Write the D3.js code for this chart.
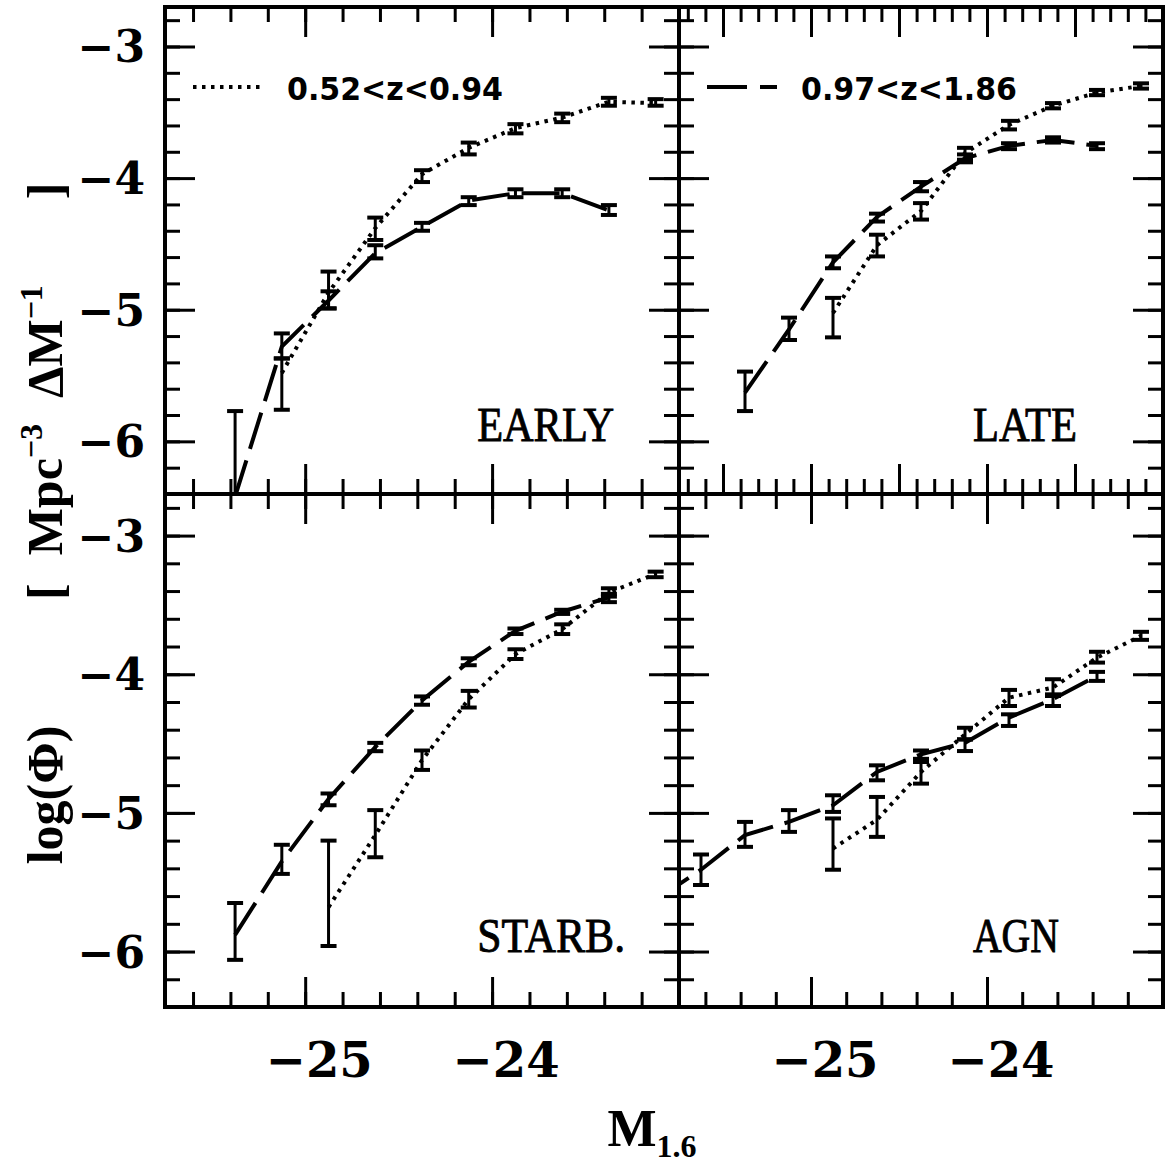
<!DOCTYPE html>
<html><head><meta charset="utf-8">
<script src="https://cdn.jsdelivr.net/npm/d3@7/dist/d3.min.js"></script>
<style>body{margin:0;background:#fff}svg{display:block}</style>
</head><body>
<script>
// ---------------- DATA ----------------
const panelNames = ["EARLY", "LATE", "STARB.", "AGN"];
const legendLabels = ["0.52<z<0.94", "0.97<z<1.86"];
const xTickValues = [-25, -24];
const xTickLabels = ["\u221225", "\u221224"];
const yTickValues = [-3, -4, -5, -6];
const yTickLabels = ["\u22123", "\u22124", "\u22125", "\u22126"];

// EARLY, 0.52<z<0.94 (dotted)
const earlyLowZ_M      = [-25.125, -24.875, -24.625, -24.375, -24.125, -23.875, -23.625, -23.375, -23.125];
const earlyLowZ_logPhi = [-5.48, -4.87, -4.38, -3.97, -3.77, -3.62, -3.54, -3.42, -3.43];
const earlyLowZ_lo     = [-5.76, -4.99, -4.47, -4.03, -3.82, -3.66, -3.575, -3.45, -3.45];
const earlyLowZ_hi     = [-5.37, -4.71, -4.30, -3.94, -3.73, -3.59, -3.51, -3.39, -3.40];
// EARLY, 0.97<z<1.86 (dashed)
const earlyHighZ_M      = [-25.375, -25.125, -24.875, -24.625, -24.375, -24.125, -23.875, -23.625, -23.375];
const earlyHighZ_logPhi = [-6.42, -5.28, -4.93, -4.57, -4.37, -4.17, -4.115, -4.115, -4.245];
const earlyHighZ_lo     = [-7.00, -5.37, -4.99, -4.61, -4.40, -4.205, -4.145, -4.145, -4.28];
const earlyHighZ_hi     = [-5.77, -5.18, -4.86, -4.51, -4.34, -4.145, -4.085, -4.085, -4.205];

// LATE
const lateLowZ_M      = [-24.875, -24.625, -24.375, -24.125, -23.875, -23.625, -23.375, -23.125];
const lateLowZ_logPhi = [-5.025, -4.51, -4.25, -3.81, -3.595, -3.45, -3.35, -3.30];
const lateLowZ_lo     = [-5.21, -4.595, -4.315, -3.86, -3.63, -3.47, -3.37, -3.32];
const lateLowZ_hi     = [-4.91, -4.43, -4.19, -3.77, -3.565, -3.43, -3.33, -3.28];
const lateHighZ_M      = [-25.375, -25.125, -24.875, -24.625, -24.375, -24.125, -23.875, -23.625, -23.375];
const lateHighZ_logPhi = [-5.63, -5.15, -4.64, -4.295, -4.065, -3.85, -3.755, -3.71, -3.755];
const lateHighZ_lo     = [-5.77, -5.23, -4.685, -4.33, -4.10, -3.88, -3.78, -3.73, -3.78];
const lateHighZ_hi     = [-5.47, -5.06, -4.595, -4.27, -4.03, -3.82, -3.735, -3.69, -3.735];

// STARB.
const starbLowZ_M      = [-24.875, -24.625, -24.375, -24.125, -23.875, -23.625, -23.375, -23.125];
const starbLowZ_logPhi = [-5.68, -5.16, -4.62, -4.18, -3.855, -3.675, -3.41, -3.277];
const starbLowZ_lo     = [-5.96, -5.32, -4.69, -4.24, -3.89, -3.71, -3.44, -3.30];
const starbLowZ_hi     = [-5.20, -4.98, -4.55, -4.12, -3.82, -3.64, -3.38, -3.26];
const starbHighZ_M      = [-25.375, -25.125, -24.875, -24.625, -24.375, -24.125, -23.875, -23.625, -23.375];
const starbHighZ_logPhi = [-5.88, -5.35, -4.90, -4.525, -4.19, -3.91, -3.687, -3.549, -3.446];
const starbHighZ_lo     = [-6.06, -5.44, -4.945, -4.555, -4.22, -3.935, -3.71, -3.565, -3.48];
const starbHighZ_hi     = [-5.65, -5.23, -4.86, -4.495, -4.16, -3.885, -3.67, -3.535, -3.42];

// AGN
const agnLowZ_M      = [-24.875, -24.625, -24.375, -24.125, -23.875, -23.625, -23.375, -23.125];
const agnLowZ_logPhi = [-5.257, -5.05, -4.705, -4.434, -4.169, -4.096, -3.88, -3.723];
const agnLowZ_lo     = [-5.41, -5.173, -4.789, -4.47, -4.229, -4.157, -3.916, -3.752];
const agnLowZ_hi     = [-5.04, -4.885, -4.633, -4.386, -4.113, -4.036, -3.838, -3.694];
const agnHighZ_M      = [-25.875, -25.625, -25.375, -25.125, -24.875, -24.625, -24.375, -24.125, -23.875, -23.625, -23.375];
const agnHighZ_logPhi = [-5.62, -5.41, -5.16, -5.065, -4.945, -4.705, -4.578, -4.494, -4.313, -4.18, -4.012];
const agnHighZ_lo     = [-5.76, -5.52, -5.245, -5.137, -4.993, -4.765, -4.61, -4.554, -4.373, -4.229, -4.048];
const agnHighZ_hi     = [-5.48, -5.30, -5.065, -4.98, -4.873, -4.657, -4.55, -4.47, -4.289, -4.145, -3.983];

// ---------------- LAYOUT ----------------
const W = 1168, H = 1168;
const xDomain = [-25.75, -23.0];
const yDomain = [-6.4, -2.7];
const colX = [[165, 679], [679, 1163]];
const rowY = [[7, 494], [494, 1007]];

function series(M, v, lo, hi) { return M.map((m, i) => ({m, v: v[i], lo: lo[i], hi: hi[i]})); }

const panels = [
  {name: panelNames[0], nameW: 137, col: 0, row: 0, xMinorStep: 0.2, xMajorStep: 1,
   low: series(earlyLowZ_M, earlyLowZ_logPhi, earlyLowZ_lo, earlyLowZ_hi),
   high: series(earlyHighZ_M, earlyHighZ_logPhi, earlyHighZ_lo, earlyHighZ_hi), legend: 0},
  {name: panelNames[1], nameW: 104, col: 1, row: 0, xMinorStep: 0.1, xMajorStep: 0.5,
   low: series(lateLowZ_M, lateLowZ_logPhi, lateLowZ_lo, lateLowZ_hi),
   high: series(lateHighZ_M, lateHighZ_logPhi, lateHighZ_lo, lateHighZ_hi), legend: 1},
  {name: panelNames[2], nameW: 148, col: 0, row: 1, xMinorStep: 0.2, xMajorStep: 1,
   low: series(starbLowZ_M, starbLowZ_logPhi, starbLowZ_lo, starbLowZ_hi),
   high: series(starbHighZ_M, starbHighZ_logPhi, starbHighZ_lo, starbHighZ_hi)},
  {name: panelNames[3], nameW: 86, col: 1, row: 1, xMinorStep: 0.2, xMajorStep: 1,
   low: series(agnLowZ_M, agnLowZ_logPhi, agnLowZ_lo, agnLowZ_hi),
   high: series(agnHighZ_M, agnHighZ_logPhi, agnHighZ_lo, agnHighZ_hi)}
];

const DOTTED = "3.5,5.5", DASHED = "38,12";
const LABEL_FONT = "DejaVu Serif";

const svg = d3.select("body").append("svg").attr("width", W).attr("height", H)
  .attr("viewBox", `0 0 ${W} ${H}`);
svg.append("rect").attr("width", W).attr("height", H).attr("fill", "#fff");

function stepTicks(lo, hi, step) {
  const n0 = Math.ceil(lo / step - 1e-6), n1 = Math.floor(hi / step + 1e-6);
  const out = [];
  for (let n = n0; n <= n1; n++) {
    const v = +(n * step).toFixed(4);
    if (v > lo + 1e-6 && v < hi - 1e-6) out.push(v);
  }
  return out;
}

panels.forEach((p, pi) => {
  const [x0, x1] = colX[p.col], [y0, y1] = rowY[p.row];
  const x = d3.scaleLinear().domain(xDomain).range([x0, x1]);
  const y = d3.scaleLinear().domain(yDomain).range([y1, y0]);
  const g = svg.append("g");
  const clipId = "clip" + pi;
  svg.append("clipPath").attr("id", clipId).append("rect")
    .attr("x", x0).attr("y", y0).attr("width", x1 - x0).attr("height", y1 - y0);

  const plot = g.append("g").attr("clip-path", `url(#${clipId})`);
  const line = d3.line().x(d => x(d.m)).y(d => y(d.v));

  [[p.low, DOTTED, 4], [p.high, DASHED, 4]].forEach(([data, dash, w]) => {
    plot.append("path").datum(data).attr("d", line)
      .attr("fill", "none").attr("stroke", "#000").attr("stroke-width", w)
      .attr("stroke-dasharray", dash).attr("stroke-linecap", "butt");
    const eb = plot.append("g").selectAll("g").data(data).join("g");
    eb.append("line").attr("x1", d => x(d.m)).attr("x2", d => x(d.m))
      .attr("y1", d => y(d.lo)).attr("y2", d => y(d.hi))
      .attr("stroke", "#000").attr("stroke-width", 3);
    ["lo", "hi"].forEach(k => {
      eb.append("line").attr("x1", d => x(d.m) - 8).attr("x2", d => x(d.m) + 8)
        .attr("y1", d => y(d[k])).attr("y2", d => y(d[k]))
        .attr("stroke", "#000").attr("stroke-width", 4);
    });
  });

  // ticks via d3 axes
  const xMinor = stepTicks(xDomain[0], xDomain[1], p.xMinorStep);
  const xMajor = stepTicks(xDomain[0], xDomain[1], p.xMajorStep);
  const yMinor = stepTicks(yDomain[0], yDomain[1], 0.2);
  const yMajor = stepTicks(yDomain[0], yDomain[1], 1);
  const addAxis = (gen, vals, size, tx, ty) => {
    const a = g.append("g").attr("transform", `translate(${tx},${ty})`)
      .call(gen.tickValues(vals).tickSize(-size).tickFormat(""));
    a.select(".domain").remove();
    a.selectAll("line").attr("stroke", "#000").attr("stroke-width", 3);
  };
  addAxis(d3.axisBottom(x), xMinor, 15, 0, y1);
  addAxis(d3.axisBottom(x), xMajor, 30, 0, y1);
  addAxis(d3.axisTop(x), xMinor, 15, 0, y0);
  addAxis(d3.axisTop(x), xMajor, 30, 0, y0);
  addAxis(d3.axisLeft(y), yMinor, 15, x0, 0);
  addAxis(d3.axisLeft(y), yMajor, 30, x0, 0);
  addAxis(d3.axisRight(y), yMinor, 15, x1, 0);
  addAxis(d3.axisRight(y), yMajor, 30, x1, 0);

  g.append("rect").attr("x", x0).attr("y", y0).attr("width", x1 - x0).attr("height", y1 - y0)
    .attr("fill", "none").attr("stroke", "#000").attr("stroke-width", 4);

  // tick labels
  if (p.col === 0) {
    yTickValues.forEach((v, i) => {
      g.append("text").attr("x", x0 - 20).attr("y", y(v) + 16)
        .attr("text-anchor", "end").attr("font-family", LABEL_FONT)
        .attr("font-weight", "bold").attr("font-size", 44).text(yTickLabels[i]);
    });
  }
  if (p.row === 1) {
    xTickValues.forEach((v, i) => {
      g.append("text").attr("x", x(v) + 14).attr("y", y1 + 70)
        .attr("text-anchor", "middle").attr("font-family", LABEL_FONT)
        .attr("font-weight", "bold").attr("font-size", 48).text(xTickLabels[i]);
    });
  }

  // panel name
  g.append("text").attr("x", x(-24.08)).attr("y", y(-6.0))
    .attr("font-family", "Liberation Serif").attr("font-size", 48)
    .attr("stroke", "#000").attr("stroke-width", 0.9)
    .attr("textLength", p.nameW).attr("lengthAdjust", "spacingAndGlyphs")
    .text(p.name);

  // legend
  if (p.legend !== undefined) {
    const ly = y0 + 80;
    g.append("line").attr("x1", x0 + 28).attr("x2", x0 + 100).attr("y1", ly).attr("y2", ly)
      .attr("stroke", "#000").attr("stroke-width", 4)
      .attr("stroke-dasharray", p.legend === 0 ? DOTTED : "40,13,17,100");
    g.append("text").attr("x", x0 + 122).attr("y", ly + 13)
      .attr("font-family", "DejaVu Sans").attr("font-weight", "bold").attr("font-size", 32)
      .attr("textLength", 216).attr("lengthAdjust", "spacingAndGlyphs")
      .text(legendLabels[p.legend]);
  }
});

// axis titles
const xt = svg.append("text").attr("x", 652).attr("y", 1146).attr("text-anchor", "middle")
  .attr("font-family", "Liberation Serif").attr("font-size", 52).attr("font-weight", "bold");
xt.append("tspan").text("M");
xt.append("tspan").attr("font-size", 32).attr("dy", 11).text("1.6");

const yt = svg.append("g").attr("transform", "translate(62,520) rotate(-90)");
yt.append("text").attr("x", -275).attr("y", 0).attr("text-anchor", "middle")
  .attr("font-family", "Liberation Serif").attr("font-size", 50).attr("font-weight", "bold")
  .text("log(\u03A6)");
const yb = yt.append("text").attr("x", -80).attr("y", 0).attr("text-anchor", "start")
  .attr("font-family", "Liberation Serif").attr("font-size", 50).attr("font-weight", "bold");
yb.append("tspan").text("[");
yb.append("tspan").attr("dx", 28).text("Mpc");
yb.append("tspan").attr("font-size", 32).attr("dy", -20).text("\u22123");
yb.append("tspan").attr("dx", 26).attr("dy", 20).text("\u0394M");
yb.append("tspan").attr("font-size", 32).attr("dy", -20).text("\u22121");
yb.append("tspan").attr("dx", 86).attr("dy", 20).text("]");
</script>
</body></html>
